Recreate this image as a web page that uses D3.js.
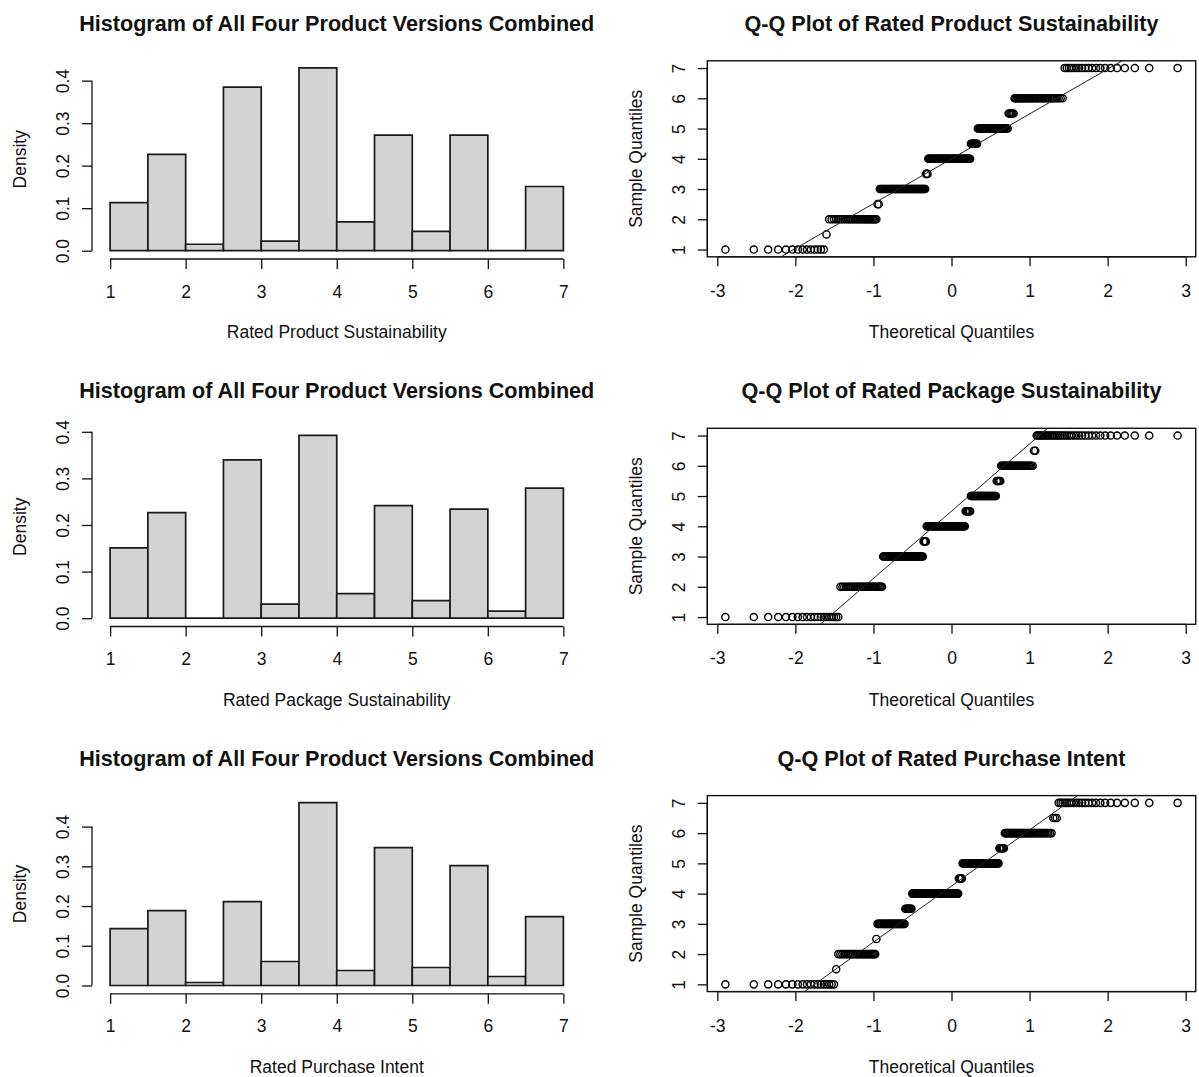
<!DOCTYPE html>
<html>
<head>
<meta charset="utf-8">
<script src="https://cdn.jsdelivr.net/npm/d3@7"></script>
<style>
  body { margin: 0; background: #fff; }
  svg { display: block; font-family: "Liberation Sans", Arial, sans-serif; }
</style>
</head>
<body>
<svg id="chart" width="1199" height="1077"></svg>
<script>
// Rating levels on the 1-7 scale (half points come from averaged ratings)
const levels = [1, 1.5, 2, 2.5, 3, 3.5, 4, 4.5, 5, 5.5, 6, 6.5, 7];

// Number of responses at each level, per rated variable
const productCounts  = [14, 1, 30, 2, 51, 3, 57, 9, 36, 6, 36, 0, 20];
const packageCounts  = [20, 0, 30, 0, 45, 4, 52, 7, 32, 5, 31, 2, 37];
const purchaseCounts = [18, 1, 25, 1, 28, 8, 61, 5, 46, 6, 40, 3, 23];

const variableNames = [
  "Rated Product Sustainability",
  "Rated Package Sustainability",
  "Rated Purchase Intent"
];
const histTitle = "Histogram of All Four Product Versions Combined";
const qqTitles = [
  "Q-Q Plot of Rated Product Sustainability",
  "Q-Q Plot of Rated Package Sustainability",
  "Q-Q Plot of Rated Purchase Intent"
];

// Histogram breaks and axis ticks
const histBreaks   = [1, 1.5, 2, 2.5, 3, 3.5, 4, 4.5, 5, 5.5, 6, 6.5, 7];
const histXTicks   = [1, 2, 3, 4, 5, 6, 7];
const densityTicks = [0, 0.1, 0.2, 0.3, 0.4];
const qqXTicks     = [-3, -2, -1, 0, 1, 2, 3];
const qqYTicks     = [1, 2, 3, 4, 5, 6, 7];

const allCounts = [productCounts, packageCounts, purchaseCounts];

// ---- layout ----
const rowTop = [60.5, 428, 795.3];
const histLeft = 92, histW = 489.5, histH = 197.5;
const qqLeft = 707.3, qqW = 488.4, qqH = 196;
const FONT = 17.5, TITLE_FONT = 21.6;
const INK = "#111";

// plain integer labels with an ASCII hyphen for negatives
const intLabel = d => String(d);

const svg = d3.select("#chart");

// Inverse standard normal CDF (Acklam's rational approximation)
function qnorm(p) {
  const a = [-3.969683028665376e+01, 2.209460984245205e+02, -2.759285104469687e+02,
             1.383577518672690e+02, -3.066479806614716e+01, 2.506628277459239e+00];
  const b = [-5.447609879822406e+01, 1.615858368580409e+02, -1.556989798598866e+02,
             6.680131188771972e+01, -1.328068155288572e+01];
  const c = [-7.784894002430293e-03, -3.223964580411365e-01, -2.400758277161838e+00,
             -2.549732539343734e+00, 4.374664141464968e+00, 2.938163982698783e+00];
  const d = [7.784695709041462e-03, 3.224671290700398e-01, 2.445134137142996e+00,
             3.754408661907416e+00];
  const pl = 0.02425, ph = 1 - pl;
  let q, r;
  if (p < pl) {
    q = Math.sqrt(-2 * Math.log(p));
    return (((((c[0]*q+c[1])*q+c[2])*q+c[3])*q+c[4])*q+c[5]) /
           ((((d[0]*q+d[1])*q+d[2])*q+d[3])*q+1);
  }
  if (p > ph) {
    q = Math.sqrt(-2 * Math.log(1 - p));
    return -(((((c[0]*q+c[1])*q+c[2])*q+c[3])*q+c[4])*q+c[5]) /
            ((((d[0]*q+d[1])*q+d[2])*q+d[3])*q+1);
  }
  q = p - 0.5; r = q * q;
  return (((((a[0]*r+a[1])*r+a[2])*r+a[3])*r+a[4])*r+a[5])*q /
         (((((b[0]*r+b[1])*r+b[2])*r+b[3])*r+b[4])*r+1);
}

// Expand level counts into the sorted sample
function sampleFrom(counts) {
  const out = [];
  counts.forEach((c, i) => { for (let k = 0; k < c; k++) out.push(levels[i]); });
  return out;
}

// Bin counts for right-closed bins (first bin includes its left edge)
function binCounts(counts) {
  const bins = new Array(histBreaks.length - 1).fill(0);
  counts.forEach((c, i) => {
    const v = levels[i];
    let b = histBreaks.findIndex((br, j) => j > 0 && v <= br) - 1;
    if (b < 0) b = 0;
    bins[b] += c;
  });
  return bins;
}

function styleAxis(g) {
  g.attr("font-size", FONT).attr("font-family", '"Liberation Sans", Arial, sans-serif');
  g.selectAll("path, line").attr("stroke", INK).attr("stroke-width", 1.3);
  g.selectAll("text").attr("fill", INK);
}

function drawHistogram(row) {
  const counts = allCounts[row];
  const n = d3.sum(counts);
  const width = histBreaks[1] - histBreaks[0];
  const bins = binCounts(counts).map((c, i) => ({
    x0: histBreaks[i], x1: histBreaks[i + 1], density: c / (n * width)
  }));
  const maxD = d3.max(bins, d => d.density);
  const top = rowTop[row], bottom = top + histH;
  const span = histBreaks[histBreaks.length - 1] - histBreaks[0];

  const x = d3.scaleLinear()
    .domain([histBreaks[0] - 0.04 * span, histBreaks[histBreaks.length - 1] + 0.04 * span])
    .range([histLeft, histLeft + histW]);
  const y = d3.scaleLinear()
    .domain([-0.04 * maxD, 1.04 * maxD])
    .range([bottom, top]);

  const g = svg.append("g");

  // bars as closed outlines so that empty bins still show their base edge
  g.selectAll("path.bar").data(bins).join("path")
    .attr("class", "bar")
    .attr("d", d => `M${x(d.x0)},${y(0)}V${y(d.density)}H${x(d.x1)}V${y(0)}Z`)
    .attr("fill", "#d3d3d3")
    .attr("stroke", "#1a1a1a")
    .attr("stroke-width", 1.7);

  // x axis, line spanning first to last tick
  const gx = g.append("g")
    .attr("transform", `translate(0,${bottom + 1})`)
    .call(d3.axisBottom(x).tickValues(histXTicks).tickFormat(intLabel).tickSize(10).tickSizeOuter(0));
  gx.select(".domain").attr("d", `M${x(histXTicks[0])},0H${x(histXTicks[histXTicks.length - 1])}`);
  gx.selectAll(".tick text").attr("y", 38.5).attr("dy", null);
  styleAxis(gx);

  // y axis with labels parallel to the axis
  const gy = g.append("g")
    .attr("transform", `translate(${histLeft},0)`)
    .call(d3.axisLeft(y).tickValues(densityTicks).tickFormat(d3.format(".1f")).tickSize(10).tickSizeOuter(0));
  gy.select(".domain").attr("d", `M0,${y(densityTicks[0])}V${y(densityTicks[densityTicks.length - 1])}`);
  gy.selectAll(".tick text")
    .attr("x", null).attr("dy", null)
    .attr("text-anchor", "middle")
    .attr("transform", "translate(-23,0) rotate(-90)");
  styleAxis(gy);

  g.append("text")
    .attr("x", histLeft + histW / 2).attr("y", top - 29.8)
    .attr("text-anchor", "middle").attr("font-weight", "bold")
    .attr("font-size", TITLE_FONT).attr("fill", INK)
    .text(histTitle);
  g.append("text")
    .attr("x", histLeft + histW / 2).attr("y", top + 277.5)
    .attr("text-anchor", "middle").attr("font-size", FONT).attr("fill", INK)
    .text(variableNames[row]);
  g.append("text")
    .attr("transform", `translate(${histLeft - 66},${(top + bottom) / 2}) rotate(-90)`)
    .attr("text-anchor", "middle").attr("font-size", FONT).attr("fill", INK)
    .text("Density");
}

function drawQQ(row) {
  const sample = sampleFrom(allCounts[row]);
  const n = sample.length;
  // theoretical quantiles at plotting positions (i - 1/2) / n
  const points = sample.map((v, i) => ({ tq: qnorm((i + 0.5) / n), sq: v }));
  const top = rowTop[row] + 0.3, bottom = top + qqH;

  const xExt = d3.extent(points, d => d.tq);
  const xr = xExt[1] - xExt[0];
  const yExt = d3.extent(points, d => d.sq);
  const yr = yExt[1] - yExt[0];

  const x = d3.scaleLinear()
    .domain([xExt[0] - 0.04 * xr, xExt[1] + 0.04 * xr])
    .range([qqLeft, qqLeft + qqW]);
  const y = d3.scaleLinear()
    .domain([yExt[0] - 0.04 * yr, yExt[1] + 0.04 * yr])
    .range([bottom, top]);

  const g = svg.append("g");
  const clipId = "qqclip" + row;
  g.append("clipPath").attr("id", clipId)
    .append("rect").attr("x", qqLeft).attr("y", top).attr("width", qqW).attr("height", qqH);

  g.append("g").selectAll("circle").data(points).join("circle")
    .attr("cx", d => x(d.tq))
    .attr("cy", d => y(d.sq))
    .attr("r", 3.6)
    .attr("fill", "none")
    .attr("stroke", "#000")
    .attr("stroke-width", 1.4);

  // reference line through the first and third quartiles
  const q1 = d3.quantile(sample, 0.25), q3 = d3.quantile(sample, 0.75);
  const z1 = qnorm(0.25), z3 = qnorm(0.75);
  const slope = (q3 - q1) / (z3 - z1);
  const intercept = q1 - slope * z1;
  const [xa, xb] = x.domain();
  g.append("line")
    .attr("clip-path", `url(#${clipId})`)
    .attr("x1", x(xa)).attr("y1", y(intercept + slope * xa))
    .attr("x2", x(xb)).attr("y2", y(intercept + slope * xb))
    .attr("stroke", "#222").attr("stroke-width", 1);

  g.append("rect")
    .attr("x", qqLeft).attr("y", top).attr("width", qqW).attr("height", qqH)
    .attr("fill", "none").attr("stroke", INK).attr("stroke-width", 1.4);

  const gx = g.append("g")
    .attr("transform", `translate(0,${bottom})`)
    .call(d3.axisBottom(x).tickValues(qqXTicks).tickFormat(intLabel).tickSize(9.5).tickSizeOuter(0));
  gx.select(".domain").attr("d", `M${x(qqXTicks[0])},0H${x(qqXTicks[qqXTicks.length - 1])}`);
  gx.selectAll(".tick text").attr("y", 40).attr("dy", null);
  styleAxis(gx);

  const gy = g.append("g")
    .attr("transform", `translate(${qqLeft},0)`)
    .call(d3.axisLeft(y).tickValues(qqYTicks).tickFormat(intLabel).tickSize(9.5).tickSizeOuter(0));
  gy.select(".domain").attr("d", `M0,${y(qqYTicks[0])}V${y(qqYTicks[qqYTicks.length - 1])}`);
  gy.selectAll(".tick text")
    .attr("x", null).attr("dy", null)
    .attr("text-anchor", "middle")
    .attr("transform", "translate(-22,0) rotate(-90)");
  styleAxis(gy);

  g.append("text")
    .attr("x", qqLeft + qqW / 2).attr("y", rowTop[row] - 29.8)
    .attr("text-anchor", "middle").attr("font-weight", "bold")
    .attr("font-size", TITLE_FONT).attr("fill", INK)
    .text(qqTitles[row]);
  g.append("text")
    .attr("x", qqLeft + qqW / 2).attr("y", rowTop[row] + 277.5)
    .attr("text-anchor", "middle").attr("font-size", FONT).attr("fill", INK)
    .text("Theoretical Quantiles");
  g.append("text")
    .attr("transform", `translate(${qqLeft - 65},${(top + bottom) / 2}) rotate(-90)`)
    .attr("text-anchor", "middle").attr("font-size", FONT).attr("fill", INK)
    .text("Sample Quantiles");
}

[0, 1, 2].forEach(row => { drawHistogram(row); drawQQ(row); });
</script>
</body>
</html>
